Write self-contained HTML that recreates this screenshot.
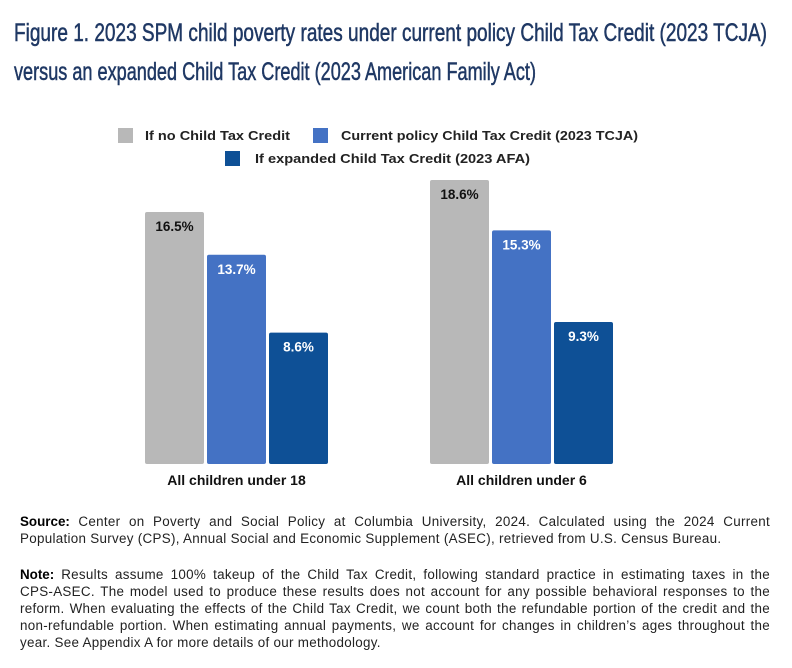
<!DOCTYPE html>
<html><head><meta charset="utf-8"><style>
body{margin:0;background:#fff;width:792px;height:668px;overflow:hidden;position:relative;font-family:"Liberation Sans",sans-serif}
svg{position:absolute;left:0;top:0}
.fn{position:absolute;left:20px;width:750px;font-size:13.4px;letter-spacing:0.3px;line-height:17px;color:#222;text-align:justify}
.fn b{color:#000;letter-spacing:0}
.nw{white-space:nowrap}
</style></head><body>
<svg width="792" height="500">
<text x="14" y="41" font-size="25" fill="#1f3864" stroke="#1f3864" stroke-width="0.5" textLength="753" lengthAdjust="spacingAndGlyphs">Figure 1. 2023 SPM child poverty rates under current policy Child Tax Credit (2023 TCJA)</text>
<text x="14" y="80" font-size="25" fill="#1f3864" stroke="#1f3864" stroke-width="0.5" textLength="522" lengthAdjust="spacingAndGlyphs">versus an expanded Child Tax Credit (2023 American Family Act)</text>
<g id="legend" font-size="13" font-weight="bold" fill="#222"></g>
<g id="bars"></g>
</svg>
<div class="fn" style="top:513px"><b>Source:</b> Center on Poverty and Social Policy at Columbia University, 2024. Calculated using the 2024 Current Population Survey (CPS), Annual Social and Economic Supplement (ASEC), retrieved from U.S. Census Bureau.</div>
<div class="fn" style="top:566px"><b>Note:</b> Results assume 100% takeup of the Child Tax Credit, following standard practice in estimating taxes in the <span class="nw">CPS-ASEC.</span> The model used to produce these results does not account for any possible behavioral responses to the reform. When evaluating the effects of the Child Tax Credit, we count both the refundable portion of the credit and the <span class="nw">non-refundable</span> portion. When estimating annual payments, we account for changes in children’s ages throughout the year. See Appendix A for more details of our methodology.</div>
<script>
const categories=["All children under 18","All children under 6"];
const seriesNames=["If no Child Tax Credit","Current policy Child Tax Credit (2023 TCJA)","If expanded Child Tax Credit (2023 AFA)"];
const noCTC=[16.5,18.6];
const currentCTC=[13.7,15.3];
const expandedCTC=[8.6,9.3];
const seriesValues=[noCTC,currentCTC,expandedCTC];
const colors=["#b8b8b8","#4472c4","#0e5096"];
const labelColors=["#111","#fff","#fff"];
const NS="http://www.w3.org/2000/svg";
const baseY=464, pxPer=15.27;
const y=v=>baseY-v*pxPer;
const groupX=[145,430], step=62, bw=59;
const bars=document.getElementById('bars');
function mk(t,a,p){const e=document.createElementNS(NS,t);for(const k in a)e.setAttribute(k,a[k]);p.appendChild(e);return e;}
seriesValues.forEach((vals,s)=>{vals.forEach((v,c)=>{
 const x=groupX[c]+s*step;
 const r=mk('rect',{x:x,y:y(v),width:bw,height:baseY-y(v),rx:2,fill:colors[s]},bars);
 
 
 const t=mk('text',{x:x+bw/2,y:y(v)+19,'text-anchor':'middle','font-size':13.5,'font-weight':'bold',fill:labelColors[s]},bars);
 t.textContent=v.toFixed(1)+'%';
 
 
});});
categories.forEach((c,i)=>{
 const t=mk('text',{x:groupX[i]+step+bw/2,y:485,'text-anchor':'middle','font-size':14,'font-weight':'bold',fill:'#111'},bars);
 t.textContent=c;
 
 
});
const lg=document.getElementById('legend');
const lpos=[[118,128,145,145],[313,128,341,297],[225,151,255,275]];
seriesNames.forEach((n,i)=>{
 const p=lpos[i];
 const sq=mk('rect',{x:p[0],y:p[1],width:15,height:15,fill:colors[i]},lg);
 
 
 const t=mk('text',{x:p[2],y:p[1]+12,textLength:p[3],lengthAdjust:'spacingAndGlyphs'},lg);
 t.textContent=n;
 
 
});
</script>
</body></html>
